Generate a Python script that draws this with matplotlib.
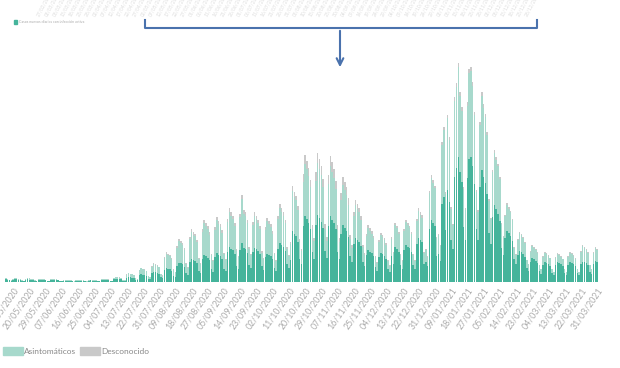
import numpy as np
import pandas as pd
import matplotlib
matplotlib.use("Agg")
import matplotlib.pyplot as plt
from matplotlib.patches import Patch, Rectangle

plt.rcParams['font.family'] = ['Lato', 'DejaVu Sans']

# casos diarios desde 07/05/2020 hasta 31/03/2021 (una fila = una semana lun-dom)
start = '2020-05-07'

sintomaticos = [
    2.8, 2.5, 1.8, 1.5,
    2.5, 2.8, 2.7, 2.5, 2.2, 1.3, 1.1,
    2.4, 2.8, 2.5, 2.4, 2.1, 1.1, 0.9,
    2.0, 2.3, 2.1, 2.0, 1.8, 1.0, 0.8,
    1.8, 2.1, 2.0, 1.8, 1.6, 0.9, 0.7,
    1.3, 1.5, 1.4, 1.3, 1.2, 0.7, 0.5,
    1.2, 1.5, 1.4, 1.3, 1.1, 0.6, 0.5,
    1.4, 1.6, 1.5, 1.4, 1.3, 0.7, 0.6,
    1.8, 2.1, 2.0, 1.9, 1.7, 1.0, 0.8,
    2.8, 3.3, 3.1, 3.0, 2.7, 1.5, 1.2,
    4.2, 5.0, 4.7, 4.5, 4.0, 2.3, 1.8,
    6.6, 7.7, 7.3, 6.9, 6.2, 3.5, 2.7,
    8.8, 10.4, 9.9, 9.4, 8.4, 4.7, 3.6,
    12, 14, 13, 13, 11, 6, 5,
    16, 19, 19, 18, 15, 9, 7,
    20, 23, 22, 21, 19, 11, 9,
    23, 27, 26, 24, 22, 13, 10,
    25, 29, 27, 26, 23, 13, 11,
    30, 35, 33, 32, 28, 16, 13,
    32, 39, 34, 33, 29, 17, 14,
    30, 34, 33, 31, 28, 16, 12,
    25, 28, 27, 26, 23, 14, 11,
    33, 39, 37, 35, 31, 18, 14,
    22, 51, 48, 46, 40, 23, 18,
    56, 66, 63, 59, 53, 30, 23,
    57, 67, 64, 60, 54, 31, 24,
    56, 66, 62, 59, 53, 30, 23,
    48, 57, 54, 51, 45, 26, 20,
    38, 44, 42, 40, 36, 20, 16,
    27, 32, 30, 29, 26, 15, 11,
    25, 29, 28, 26, 23, 13, 10,
    26, 18, 35, 33, 30, 17, 13,
    32, 37, 35, 34, 30, 17, 13,
    38, 44, 42, 40, 18, 20, 16,
    53, 62, 59, 56, 26, 28, 21,
    78, 85, 52, 92, 80, 42, 33,
    105, 114, 125, 110, 100, 55, 42,
    104, 123, 125, 116, 98, 53, 42,
    95, 112, 105, 99, 88, 49, 38,
    65, 77, 73, 68, 61, 34, 27,
    44, 51, 49, 46, 41, 23, 18,
    27, 31, 30, 28, 25, 14, 11,
    20, 24, 23, 21, 19, 11, 8,
    17, 20, 19, 18, 16, 9, 7,
    17, 20, 19, 18, 16, 9, 7,
    17, 20, 19, 18, 16, 9, 7,
    18, 20, 20, 19, 17, 10, 8,
    18, 21, 20,
]

asintomaticos = [
    1.2, 1.0, 0.7, 0.5,
    1.0, 1.2, 1.1, 1.0, 1.0, 0.5, 0.4,
    1.0, 1.2, 1.1, 1.0, 0.9, 0.5, 0.4,
    0.8, 0.9, 0.9, 0.8, 0.7, 0.4, 0.3,
    0.8, 0.9, 0.8, 0.8, 0.7, 0.4, 0.3,
    0.5, 0.7, 0.6, 0.5, 0.5, 0.3, 0.2,
    0.6, 0.7, 0.6, 0.6, 0.5, 0.3, 0.2,
    0.6, 0.8, 0.7, 0.6, 0.6, 0.3, 0.2,
    0.9, 1.1, 1.0, 0.9, 0.8, 0.4, 0.3,
    1.4, 1.7, 1.6, 1.5, 1.3, 0.7, 0.5,
    3.2, 3.7, 3.5, 3.4, 3.0, 1.6, 1.3,
    5.0, 5.9, 5.6, 5.3, 4.7, 2.6, 2.1,
    6.7, 8.0, 7.6, 7.1, 6.3, 3.5, 2.8,
    12, 14, 14, 13, 12, 6, 5,
    18, 22, 20, 19, 17, 9, 7,
    23, 27, 25, 25, 21, 12, 9,
    27, 32, 30, 29, 25, 14, 11,
    27, 33, 31, 29, 26, 15, 11,
    30, 35, 33, 31, 28, 15, 12,
    33, 44, 34, 33, 30, 16, 13,
    27, 32, 30, 28, 25, 13, 11,
    27, 33, 31, 29, 25, 14, 10,
    30, 35, 33, 31, 28, 15, 12,
    16, 40, 37, 36, 32, 18, 13,
    44, 52, 50, 47, 42, 23, 18,
    44, 52, 49, 47, 41, 22, 17,
    42, 50, 48, 45, 40, 22, 17,
    34, 40, 38, 36, 32, 17, 14,
    28, 33, 31, 30, 26, 15, 11,
    19, 22, 21, 19, 18, 10, 8,
    15, 18, 17, 16, 14, 8, 6,
    17, 11, 22, 21, 18, 10, 8,
    19, 23, 22, 20, 18, 10, 8,
    23, 27, 25, 24, 11, 12, 9,
    36, 42, 40, 38, 18, 19, 15,
    59, 67, 36, 72, 62, 31, 24,
    76, 81, 90, 76, 71, 38, 30,
    72, 86, 86, 80, 69, 37, 28,
    62, 74, 69, 66, 59, 32, 25,
    45, 52, 49, 48, 42, 24, 18,
    22, 26, 24, 24, 21, 11, 9,
    15, 18, 17, 16, 14, 8, 7,
    10, 12, 11, 11, 10, 6, 5,
    8, 9, 9, 8, 8, 4, 3,
    7, 8, 8, 7, 7, 4, 3,
    8, 9, 9, 8, 7, 4, 3,
    12, 16, 14, 13, 12, 7, 5,
    11, 13, 12,
]

desconocido = [
    0, 0, 0, 0,
    0, 0, 0, 0, 0, 0, 0,
    0, 0, 0, 0, 0, 0, 0,
    0, 0, 0, 0, 0, 0, 0,
    0, 0, 0, 0, 0, 0, 0,
    0, 0, 0, 0, 0, 0, 0,
    0, 0, 0, 0, 0, 0, 0,
    0, 0, 0, 0, 0, 0, 0,
    0.1, 0.1, 0.1, 0.1, 0.1, 0, 0,
    0.1, 0.2, 0.2, 0.1, 0.1, 0, 0,
    0.2, 0.3, 0.3, 0.2, 0.2, 0.1, 0.1,
    0.4, 0.4, 0.4, 0.4, 0.3, 0.2, 0.1,
    0.5, 0.6, 0.5, 0.5, 0.5, 0.3, 0.2,
    1, 2, 1, 1, 1, 1, 0,
    2, 2, 2, 2, 2, 1, 1,
    2, 3, 3, 2, 2, 1, 1,
    3, 3, 3, 3, 3, 1, 1,
    3, 3, 3, 3, 3, 1, 1,
    3, 4, 4, 3, 3, 2, 1,
    3, 4, 4, 4, 3, 2, 1,
    3, 4, 3, 3, 3, 2, 1,
    3, 3, 3, 3, 3, 1, 1,
    3, 4, 4, 4, 3, 2, 1,
    2, 5, 5, 4, 4, 2, 2,
    8, 9, 8, 8, 7, 4, 3,
    9, 10, 10, 9, 8, 5, 4,
    9, 10, 10, 9, 8, 5, 4,
    7, 8, 8, 8, 7, 4, 3,
    4, 5, 5, 4, 4, 2, 2,
    2, 3, 3, 3, 2, 1, 1,
    2, 2, 2, 2, 2, 1, 1,
    2, 1, 2, 2, 2, 1, 1,
    2, 2, 2, 2, 2, 1, 1,
    2, 3, 3, 3, 1, 1, 1,
    2, 3, 3, 2, 1, 1, 1,
    3, 3, 2, 3, 3, 2, 1,
    4, 4, 4, 4, 4, 2, 2,
    4, 4, 4, 4, 3, 2, 2,
    3, 4, 4, 3, 3, 2, 1,
    2, 3, 3, 2, 2, 1, 1,
    1, 2, 2, 1, 1, 1, 1,
    1, 1, 1, 1, 1, 0, 0,
    1, 1, 1, 1, 1, 0, 0,
    1, 1, 1, 1, 0, 0, 0,
    1, 1, 1, 1, 0, 0, 0,
    1, 1, 1, 1, 1, 0, 0,
    1, 1, 1, 1, 1, 0, 0,
    1, 1, 1,
]

dates = pd.date_range(start, periods=len(sintomaticos), freq='D')
tick_dates = pd.date_range('2020-05-11', '2021-03-31', freq='9D')

c_sint = '#45b49b'
c_asint = '#a7d9cc'
c_desc = '#c9c9c9'

fig = plt.figure(figsize=(6.2, 3.68), dpi=100)
ax = fig.add_axes([5/620, 86/368, 593/620, 230/368])

x = np.arange(len(dates))
s = np.array(sintomaticos, dtype=float)
a = np.array(asintomaticos, dtype=float)
d = np.array(desconocido, dtype=float)
ax.bar(x, s, width=0.85, color=c_sint, linewidth=0)
ax.bar(x, a, bottom=s, width=0.85, color=c_asint, linewidth=0)
ax.bar(x, d, bottom=s + a, width=0.85, color=c_desc, linewidth=0)

ax.set_xlim(-0.5, len(x) - 0.5)
ax.set_ylim(0, 230)
ax.set_xticks([dates.get_loc(t) for t in tick_dates])
ax.set_xticklabels([t.strftime('%d/%m/%Y') for t in tick_dates], rotation=55,
                   ha='right', rotation_mode='anchor', fontsize=6.3, color='#ababab')
ax.tick_params(length=0, pad=3)
ax.set_yticks([])
for sp in ax.spines.values():
    sp.set_visible(False)

fig.legend(handles=[Patch(color=c_asint, label='Asintomáticos'),
                    Patch(color=c_desc, label='Desconocido')],
           loc='lower left', bbox_to_anchor=(-0.004, 0.022), ncol=2, frameon=False,
           fontsize=6.0, handlelength=2.4, handleheight=1.15, columnspacing=0.4,
           handletextpad=0.2, borderaxespad=0.2, labelcolor='#888888')

# capa superior: recorte del grafico original con la llave y la flecha
top = fig.add_axes([0, 0, 1, 1])
top.set_xlim(0, 620)
top.set_ylim(368, 0)
top.axis('off')

faded = pd.date_range('2020-02-27', periods=62, freq='5D')
for i, t in enumerate(faded):
    top.text(40 + i * 8, 17, t.strftime('%d/%m/%Y'), rotation=62, fontsize=3.5,
             color='#dedede', ha='left', va='bottom', rotation_mode='anchor')

top.add_patch(Rectangle((14, 20), 3, 4, color=c_sint))
top.text(19, 22, 'Casos nuevos diarios con infección activa', fontsize=2.6,
         color='#aaaaaa', va='center')

blue = '#4a72ad'
top.plot([145, 145, 537, 537], [20, 28, 28, 20], color=blue, lw=1.5)
top.annotate('', xy=(340, 70), xytext=(340, 28),
             arrowprops=dict(arrowstyle='->', color=blue, lw=1.5, mutation_scale=12))

fig.savefig('out.png', dpi=100)
